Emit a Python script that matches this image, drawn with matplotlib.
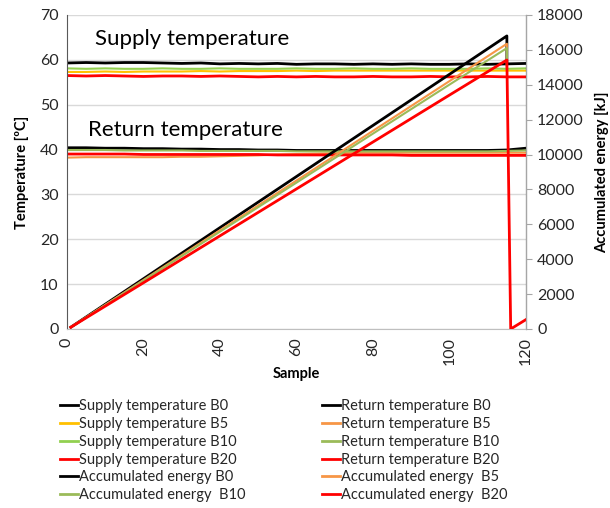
import matplotlib
matplotlib.use("Agg")
import matplotlib.pyplot as plt

plt.rcParams['font.family'] = ['Lato', 'DejaVu Sans']

# ---- data ----
samples_t = [0, 5, 10, 15, 20, 25, 30, 35, 40, 45, 50, 55, 60, 65, 70, 75, 80, 85, 90, 95, 100, 105, 110, 115, 120]

supply_b0 = [59.3, 59.4, 59.3, 59.4, 59.4, 59.3, 59.2, 59.3, 59.1, 59.2, 59.1, 59.2, 59.0, 59.1, 59.1, 59.0, 59.1, 59.0, 59.1, 59.0, 59.0, 59.1, 59.0, 59.1, 59.2]
supply_b5 = [57.3, 57.3, 57.4, 57.3, 57.4, 57.4, 57.4, 57.5, 57.4, 57.5, 57.5, 57.5, 57.6, 57.5, 57.6, 57.6, 57.6, 57.6, 57.6, 57.6, 57.6, 57.6, 57.6, 57.6, 57.6]
supply_b10 = [58.1, 58.0, 58.1, 58.0, 58.0, 58.1, 58.0, 58.0, 58.1, 58.0, 58.0, 58.0, 58.1, 58.0, 58.0, 58.1, 58.0, 58.0, 58.1, 58.0, 58.0, 58.0, 58.1, 58.0, 58.1]
supply_b20 = [56.5, 56.4, 56.5, 56.4, 56.3, 56.4, 56.4, 56.3, 56.4, 56.3, 56.2, 56.3, 56.2, 56.3, 56.2, 56.2, 56.3, 56.2, 56.2, 56.3, 56.2, 56.2, 56.3, 56.2, 56.2]

return_b0 = [40.4, 40.4, 40.3, 40.3, 40.2, 40.2, 40.1, 40.1, 40.0, 40.0, 39.9, 39.9, 39.8, 39.8, 39.8, 39.8, 39.8, 39.8, 39.8, 39.8, 39.8, 39.8, 39.8, 39.9, 40.3]
return_b5 = [38.2, 38.3, 38.3, 38.3, 38.3, 38.3, 38.4, 38.4, 38.5, 38.6, 38.7, 38.9, 39.0, 39.1, 39.2, 39.3, 39.3, 39.3, 39.3, 39.3, 39.3, 39.3, 39.3, 39.3, 39.3]
return_b10 = [39.9, 39.9, 39.9, 39.8, 39.8, 39.8, 39.8, 39.7, 39.7, 39.7, 39.7, 39.7, 39.6, 39.6, 39.6, 39.6, 39.6, 39.6, 39.6, 39.6, 39.6, 39.6, 39.6, 39.7, 39.8]
return_b20 = [39.0, 39.0, 39.0, 39.0, 38.9, 38.9, 38.9, 38.9, 38.9, 38.9, 38.9, 38.8, 38.8, 38.8, 38.8, 38.8, 38.8, 38.8, 38.7, 38.7, 38.7, 38.7, 38.7, 38.7, 38.7]

samples_e = [1, 20, 40, 60, 80, 100, 115, 115]
energy_b0 = [100, 2880, 5810, 8740, 11670, 14600, 16800, 15200]
energy_b5 = [100, 2810, 5660, 8510, 11360, 14210, 16350, 15000]
energy_b10 = [100, 2770, 5580, 8390, 11200, 14010, 16100, 14950]
samples_e20 = [1, 20, 40, 60, 80, 100, 115, 116, 120]
energy_b20 = [100, 2650, 5340, 8030, 10720, 13410, 15420, 0, 540]

# ---- style ----
BLACK = '#000000'
YELLOW = '#FFC000'
LGREEN = '#92D050'
RED = '#FF0000'
ORANGE = '#F79646'
OLIVE = '#9BBB59'
TXT = '#262626'

fig = plt.figure(figsize=(6.10, 5.08), dpi=100)
ax = fig.add_axes([0.1098, 0.3524, 0.7525, 0.6181])
ax2 = ax.twinx()

lw_thin = 1.5
lw_thick = 2.0
h_sb0, = ax.plot(samples_t, supply_b0, color=BLACK, lw=lw_thick, label='Supply temperature B0')
h_sb5, = ax.plot(samples_t, supply_b5, color=YELLOW, lw=lw_thin, label='Supply temperature B5')
h_sb10, = ax.plot(samples_t, supply_b10, color=LGREEN, lw=lw_thin, label='Supply temperature B10')
h_sb20, = ax.plot(samples_t, supply_b20, color=RED, lw=lw_thick, label='Supply temperature B20')
h_rb0, = ax.plot(samples_t, return_b0, color=BLACK, lw=lw_thick, label='Return temperature B0')
h_rb5, = ax.plot(samples_t, return_b5, color=ORANGE, lw=lw_thin, label='Return temperature B5')
h_rb10, = ax.plot(samples_t, return_b10, color=OLIVE, lw=lw_thin, label='Return temperature B10')
h_rb20, = ax.plot(samples_t, return_b20, color=RED, lw=lw_thick, label='Return temperature B20')

h_eb0, = ax2.plot(samples_e, energy_b0, color=BLACK, lw=lw_thick, label='Accumulated energy B0')
h_eb5, = ax2.plot(samples_e, energy_b5, color=ORANGE, lw=lw_thin, label='Accumulated energy  B5')
h_eb10, = ax2.plot(samples_e, energy_b10, color=OLIVE, lw=lw_thin, label='Accumulated energy  B10')
h_eb20, = ax2.plot(samples_e20, energy_b20, color=RED, lw=lw_thick, label='Accumulated energy  B20')

ax.set_xlim(0, 120)
ax.set_ylim(0, 70)
ax2.set_ylim(0, 18000)
ax.set_xticks(range(0, 121, 20))
ax.set_yticks(range(0, 71, 10))
ax2.set_yticks(range(0, 18001, 2000))

ax.grid(axis='y', color='#D9D9D9', lw=1.0)
ax.set_axisbelow(True)

for a in (ax, ax2):
    a.spines['top'].set_visible(False)
ax.spines['left'].set_color('#595959')
ax.spines['bottom'].set_color('#BFBFBF')
ax2.spines['left'].set_visible(False)
ax2.spines['bottom'].set_visible(False)
ax2.spines['right'].set_color('#A6A6A6')

ax.tick_params(axis='y', length=0, labelsize=11.5, labelcolor=TXT, pad=6)
ax.tick_params(axis='x', length=0, labelsize=11.5, labelcolor=TXT, labelrotation=90, pad=6)
ax2.tick_params(axis='y', length=4, color='#A6A6A6', labelsize=11.5, labelcolor=TXT, pad=4)

ax.set_ylabel('Temperature [ºC]', fontsize=10.5, fontweight='bold', color=BLACK, labelpad=8)
ax.set_xlabel('Sample', fontsize=10.5, fontweight='bold', color=BLACK, labelpad=1)
ax2.set_ylabel('Accumulated energy [kJ]', fontsize=10.5, fontweight='bold', color=BLACK, labelpad=8)

ax.text(7.3, 64.6, 'Supply temperature', fontsize=16, color=BLACK, va='center', ha='left')
ax.text(5.5, 44.3, 'Return temperature', fontsize=16, color=BLACK, va='center', ha='left')

handles = [h_sb0, h_sb5, h_sb10, h_sb20, h_eb0, h_eb10,
           h_rb0, h_rb5, h_rb10, h_rb20, h_eb5, h_eb20]
leg = fig.legend(handles=handles, labels=[h.get_label() for h in handles],
                 ncol=2, loc='upper left', bbox_to_anchor=(0.098, 0.214),
                 frameon=False, fontsize=10.5, handlelength=1.25, handletextpad=0.1,
                 labelspacing=0.26, columnspacing=5.2, borderpad=0, borderaxespad=0)
for t in leg.get_texts():
    t.set_color(TXT)
for l in leg.get_lines():
    l.set_linewidth(2.0)

fig.savefig('out.png', dpi=100)
